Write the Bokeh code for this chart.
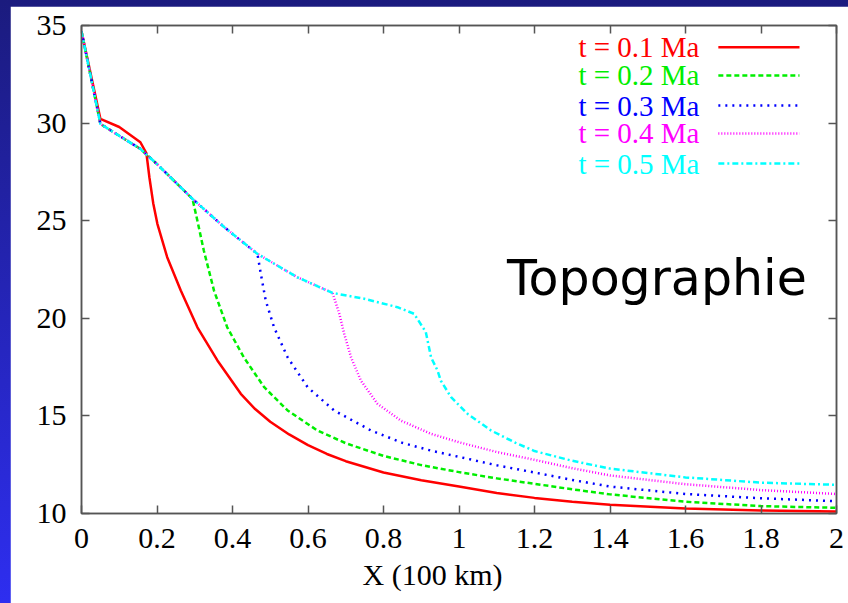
from bokeh.plotting import figure
from bokeh.models import FixedTicker, LinearAxis, Range1d, Label, Arrow, Title
from bokeh.layouts import column
from bokeh.embed import file_html
from bokeh.resources import INLINE

# ---------------- data ----------------
x_ticks = [0, 0.2, 0.4, 0.6, 0.8, 1.0, 1.2, 1.4, 1.6, 1.8, 2.0]
x_tick_labels = ["0", "0.2", "0.4", "0.6", "0.8", "1", "1.2", "1.4", "1.6", "1.8", "2"]
y_ticks = [10, 15, 20, 25, 30, 35]
y_tick_labels = ["10", "15", "20", "25", "30", "35"]

series_names = ["t = 0.1 Ma", "t = 0.2 Ma", "t = 0.3 Ma", "t = 0.4 Ma", "t = 0.5 Ma"]

# shared upper envelope
env_x = [0, 0.05, 0.1, 0.156, 0.2, 0.25, 0.294, 0.378, 0.466, 0.572, 0.665]
env_y = [34.7, 29.96, 29.35, 28.68, 27.9, 26.95, 26.12, 24.67, 23.3, 22.1, 21.3]

red_x = [0, 0.05, 0.1, 0.156, 0.172, 0.18, 0.19, 0.201, 0.227, 0.263, 0.307, 0.36, 0.422,
         0.46, 0.5, 0.55, 0.6, 0.65, 0.7, 0.8, 0.9, 1.0, 1.1, 1.2, 1.3, 1.4, 1.6, 1.8, 2.0]
red_y = [34.7, 30.22, 29.8, 29.02, 28.45, 27.2, 25.9, 24.84, 23.13, 21.42, 19.54, 17.84, 16.13,
         15.35, 14.7, 14.05, 13.5, 13.05, 12.68, 12.1, 11.7, 11.38, 11.05, 10.8, 10.6, 10.45,
         10.25, 10.15, 10.1]

green_x = env_x[:7] + [0.307, 0.324, 0.351, 0.386, 0.43, 0.484, 0.546, 0.625, 0.7, 0.8, 0.9,
                       1.0, 1.1, 1.2, 1.3, 1.4, 1.6, 1.8, 2.0]
green_y = env_y[:7] + [25.0, 23.47, 21.42, 19.54, 18.0, 16.47, 15.28, 14.25, 13.6, 12.95, 12.48,
                       12.12, 11.8, 11.52, 11.24, 10.98, 10.6, 10.38, 10.29]

blue_x = env_x[:9] + [0.475, 0.488, 0.51, 0.546, 0.599, 0.669, 0.767, 0.85, 0.93,
                      1.0, 1.1, 1.2, 1.3, 1.4, 1.6, 1.8, 2.0]
blue_y = env_y[:9] + [22.28, 20.91, 19.54, 18.0, 16.47, 15.28, 14.25, 13.62, 13.2,
                      12.9, 12.47, 12.1, 11.72, 11.38, 11.0, 10.78, 10.63]

magenta_x = env_x + [0.683, 0.696, 0.714, 0.74, 0.784, 0.846, 0.926,
                     1.0, 1.1, 1.2, 1.3, 1.4, 1.6, 1.8, 2.0]
magenta_y = env_y + [20.23, 19.2, 18.0, 16.81, 15.62, 14.76, 14.08,
                     13.65, 13.15, 12.75, 12.32, 11.95, 11.5, 11.2, 11.0]

cyan_x = env_x + [0.749, 0.837, 0.881, 0.912, 0.926, 0.943, 0.952, 0.979, 1.023, 1.085,
                  1.15, 1.2, 1.3, 1.4, 1.6, 1.8, 2.0]
cyan_y = env_y + [21.0, 20.57, 20.23, 19.3, 18.0, 17.33, 16.8, 15.96, 15.1, 14.25,
                  13.62, 13.2, 12.7, 12.3, 11.85, 11.58, 11.47]

# ---------------- styling ----------------
colors = ["#ff0000", "#00ee00", "#0000ff", "#ff00ff", "#00ffff"]
dashes = ["solid", "5 3", "2 5", "1 2", "6 3 2 3"]
xs = [red_x, green_x, blue_x, magenta_x, cyan_x]
ys = [red_y, green_y, blue_y, magenta_y, cyan_y]

SERIF = "Liberation Serif"
FRAME = "#555555"

p = figure(width=838, height=597, x_range=Range1d(0, 2), y_range=Range1d(10, 35),
           output_backend="svg", toolbar_location=None,
           min_border_left=71, min_border_right=12, min_border_top=19, min_border_bottom=90,
           background_fill_color="white", border_fill_color="white")
p.margin = (6, 0, 0, 10)
p.grid.visible = False
p.outline_line_color = FRAME
p.outline_line_width = 1.5

p.xaxis.ticker = FixedTicker(ticks=x_ticks)
p.yaxis.ticker = FixedTicker(ticks=y_ticks)
p.xaxis.major_label_overrides = {t: l for t, l in zip(x_ticks, x_tick_labels)}
p.yaxis.major_label_overrides = {t: l for t, l in zip(y_ticks, y_tick_labels)}

for ax in (p.xaxis[0], p.yaxis[0]):
    ax.major_tick_in = 8
    ax.major_tick_out = 0
    ax.minor_tick_line_color = None
    ax.axis_line_color = FRAME
    ax.axis_line_width = 1.5
    ax.major_tick_line_color = FRAME
    ax.major_tick_line_width = 1.5
    ax.major_label_text_font = SERIF
    ax.major_label_text_font_size = "30px"
    ax.major_label_text_color = "black"
    ax.major_label_standoff = 15

# mirror ticks on top and right
top_ax = LinearAxis(ticker=FixedTicker(ticks=x_ticks))
right_ax = LinearAxis(ticker=FixedTicker(ticks=y_ticks))
for ax in (top_ax, right_ax):
    ax.major_tick_in = 8
    ax.major_tick_out = 0
    ax.minor_tick_line_color = None
    ax.axis_line_color = FRAME
    ax.axis_line_width = 1.5
    ax.major_tick_line_color = FRAME
    ax.major_tick_line_width = 1.5
    ax.major_label_text_font_size = "0px"
    ax.major_label_text_color = None
    ax.major_label_standoff = 0
p.add_layout(top_ax, "above")
p.add_layout(right_ax, "right")

for x, y, c, d in zip(xs, ys, colors, dashes):
    p.line(x, y, line_color=c, line_width=2.5, line_dash=d, line_join="round")

# x-axis title (sits left of the frame centre in the original)
p.add_layout(Title(text="X (100 km)", align="left", offset=281, standoff=10,
                   text_font=SERIF, text_font_size="30px", text_font_style="normal",
                   text_color="black"), "below")

# ---------------- key (top right) ----------------
key_text_x = 1.637
key_line_x0, key_line_x1 = 1.687, 1.902
key_rows = [33.89, 32.44, 30.9, 29.47, 27.93]
for name, c, d, ry in zip(series_names, colors, dashes, key_rows):
    p.add_layout(Label(x=key_text_x, y=ry, text=name, text_align="right",
                       text_baseline="middle", text_color=c, text_font=SERIF,
                       text_font_size="29px"))
    p.add_layout(Arrow(x_start=key_line_x0, y_start=ry, x_end=key_line_x1, y_end=ry,
                       start=None, end=None, line_color=c, line_width=2.5, line_dash=d))

p.add_layout(Label(x=1.127, y=22.05, text="Topographie", text_align="left",
                   text_baseline="middle", text_color="black", text_font="DejaVu Sans",
                   text_font_size="49px"))

layout = column(p, width=848, height=603,
                styles={"background": "linear-gradient(to bottom, #1b1b7e, #2e2ef0)"})

open("out.html", "w").write(file_html(layout, INLINE))
